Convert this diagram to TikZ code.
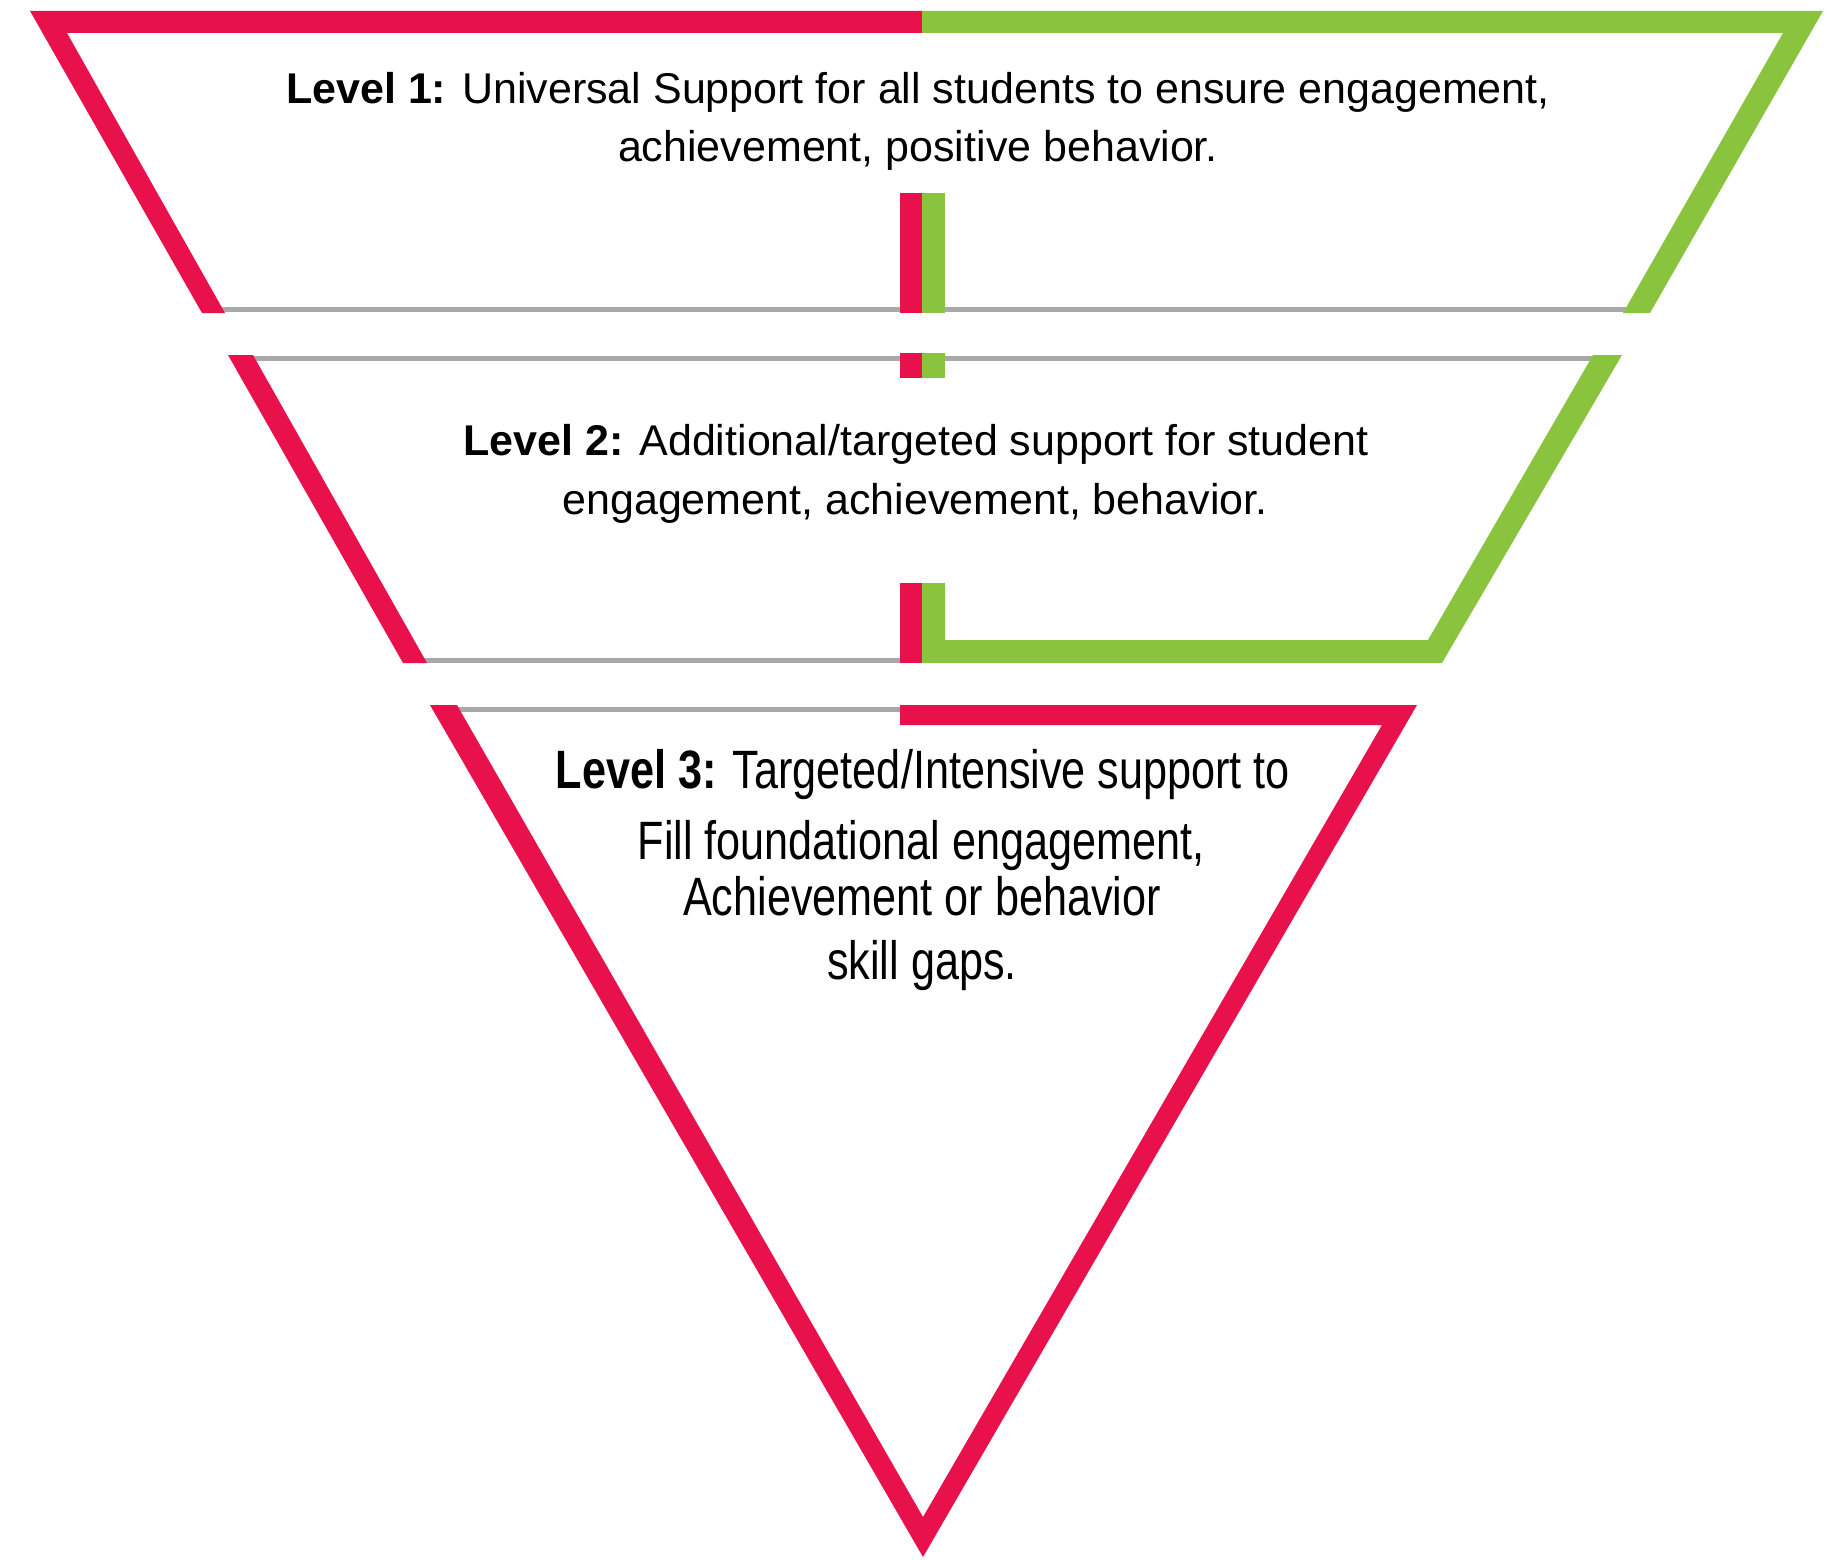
\documentclass[tikz,border=0pt]{standalone}
\usepackage{fontspec}
\setmainfont{Liberation Sans}
\newfontfamily\condfont[FakeStretch=0.8]{Liberation Sans}
\definecolor{tierred}{RGB}{232,17,75}
\definecolor{tiergreen}{RGB}{138,196,62}
\definecolor{tiergray}{RGB}{168,168,168}
\begin{document}
\begin{tikzpicture}[x=1pt,y=-1pt,
  redband/.style={fill=tierred},
  greenband/.style={fill=tiergreen},
  grayline/.style={draw=tiergray, line width=5pt},
  lab/.style={anchor=base, inner sep=0pt, text=black, font=\fontsize{43}{50}\selectfont},
  labc/.style={anchor=base, inner sep=0pt, text=black, font=\condfont\fontsize{54}{60}\selectfont}]
\fill[white] (0,0) rectangle (1832,1560);
\useasboundingbox (0,0) rectangle (1832,1560);
% gray edges
\draw[grayline] (215,309.5) -- (1630,309.5);
\draw[grayline] (245,358) -- (1600,358);
\draw[grayline] (420,660) -- (905,660);
\draw[grayline] (450,709) -- (905,709);
% level 1
\fill[redband] (30,11) -- (922,11) -- (922,33) -- (67,33) -- (225,313) -- (202,313) -- cycle;
\fill[greenband] (922,11) -- (1823,11) -- (1650,313) -- (1623,313) -- (1783,33) -- (922,33) -- cycle;
\fill[redband] (900,193) rectangle (922,313);
\fill[greenband] (922,193) rectangle (945,313);
% stubs
\fill[redband] (900,353) rectangle (922,378);
\fill[greenband] (922,353) rectangle (945,378);
% level 2
\fill[redband] (228,355) -- (253,355) -- (427,663) -- (403,663) -- cycle;
\fill[redband] (900,583) rectangle (922,663);
\fill[greenband] (922,583) -- (945,583) -- (945,640) -- (1428,640) -- (1593,355) -- (1622,355) -- (1442,663) -- (922,663) -- cycle;
% level 3
\fill[redband] (430,705) -- (923,1557) -- (1417,705) -- (900,705) -- (900,725) -- (1382,725) -- (923,1517) -- (457,705) -- cycle;
% texts
\node[lab] (t1a) at (918,104) {\textbf{Level 1:} Universal Support for all students to ensure engagement,};
\node[lab] (t1b) at (918,161) {achievement, positive behavior.};
\node[lab] (t2a) at (916,455) {\textbf{Level 2:} Additional/targeted support for student};
\node[lab] (t2b) at (915,514) {engagement, achievement, behavior.};
\node[labc] (t3a) at (923,788) {\textbf{Level 3:} Targeted/Intensive support to};
\node[labc] (t3b) at (921,859) {Fill foundational engagement,};
\node[labc] (t3c) at (922,915) {Achievement or behavior};
\node[labc] (t3d) at (922,979) {skill gaps.};
\end{tikzpicture}
\end{document}
